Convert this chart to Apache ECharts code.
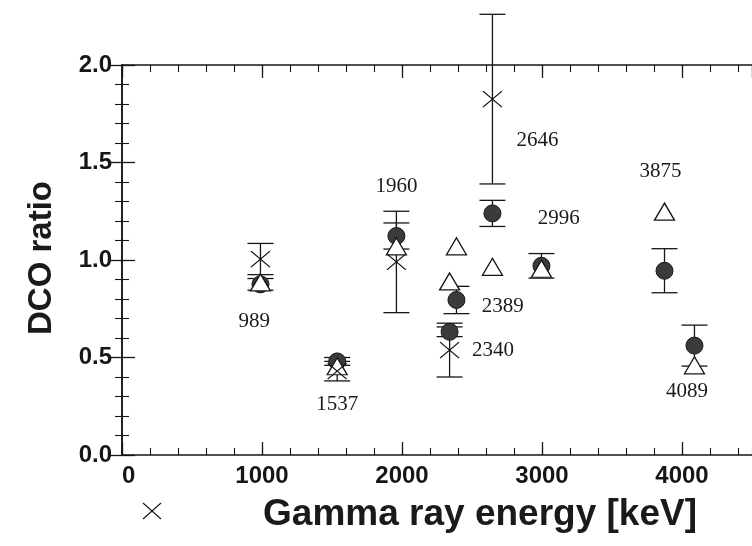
<!DOCTYPE html>
<html><head><meta charset="utf-8">
<script src="https://cdn.jsdelivr.net/npm/echarts@6/dist/echarts.min.js"></script>
<style>html,body{margin:0;padding:0;background:#fff}#c{width:752px;height:546px}</style>
</head><body><div id="c"></div>
<script>
// ---- data ----
const energies = [989, 1537, 1960, 2340, 2389, 2646, 2996, 3875, 4089];
const circleValues = [0.875, 0.48, 1.123, 0.632, 0.795, 1.239, 0.97, 0.945, 0.561];
const circleErrors = [0.03, 0.02, 0.067, 0.025, 0.07, 0.067, 0.063, 0.113, 0.105];
const triangleValues = [0.885, 0.455, 1.07, 0.89, 1.07, 0.965, 0.955, 1.248, 0.46];
const crossEnergies = [989, 1537, 1960, 2340, 2646];
const crossValues = [1.005, 0.43, 0.99, 0.538, 1.825];
const crossErrors = [0.08, 0.05, 0.26, 0.138, 0.435];
const labelTexts = ['989', '1537', '1960', '2340', '2389', '2646', '2996', '3875', '4089'];
const labelEnergies = [944, 1537, 1960, 2650, 2720, 2967, 3120, 3847, 4035];
const labelValues = [0.687, 0.26, 1.375, 0.538, 0.76, 1.615, 1.214, 1.453, 0.325];
const xTickLabels = ['0', '1000', '2000', '3000', '4000'];
const yTickLabels = ['0.0', '0.5', '1.0', '1.5', '2.0'];

const ink = '#161616';
const axisLine = {show: true, lineStyle: {color: ink, width: 1.5}};
const majorTick = {show: true, inside: true, length: 13, lineStyle: {color: ink, width: 1.3}};
const minorTickX = {show: true, inside: true, length: 7, lineStyle: {color: ink, width: 1.1}};

function xAxisDef(pos, interval, tick, withLabels, withLine) {
  return {
    type: 'value', position: pos, min: 0, max: 4500, interval: interval,
    axisLine: withLine ? axisLine : {show: false},
    axisTick: tick,
    splitLine: {show: false},
    axisLabel: withLabels ? {
      show: true, margin: 9, color: ink, fontFamily: '"Liberation Sans", Arial, sans-serif',
      fontWeight: 'bold', fontSize: 24, showMaxLabel: false, alignMinLabel: 'left',
      formatter: v => xTickLabels.indexOf(String(v)) >= 0 ? String(v) : ''
    } : {show: false}
  };
}
function yAxisDef(pos, withLabels) {
  return {
    type: 'value', position: pos, min: 0, max: 2, interval: 0.5,
    axisLine: axisLine, axisTick: majorTick,
    minorTick: {show: true, splitNumber: 5, length: 7, lineStyle: {color: ink, width: 1.1}},
    splitLine: {show: false}, minorSplitLine: {show: false},
    axisLabel: withLabels ? {
      show: true, margin: 10, color: ink, fontFamily: '"Liberation Sans", Arial, sans-serif',
      fontWeight: 'bold', fontSize: 24,
      formatter: v => yTickLabels[Math.round(v / 0.5)]
    } : {show: false}
  };
}

function errorBarRender(params, api) {
  const x = api.value(0);
  const lo = api.coord([x, api.value(1)]);
  const hi = api.coord([x, api.value(2)]);
  const hw = 13;
  const st = {stroke: ink, lineWidth: 1.3};
  return {type: 'group', children: [
    {type: 'line', shape: {x1: lo[0], y1: lo[1], x2: hi[0], y2: hi[1]}, style: st},
    {type: 'line', shape: {x1: hi[0] - hw, y1: hi[1], x2: hi[0] + hw, y2: hi[1]}, style: st},
    {type: 'line', shape: {x1: lo[0] - hw, y1: lo[1], x2: lo[0] + hw, y2: lo[1]}, style: st}
  ]};
}

const chart = echarts.init(document.getElementById('c'), null, {renderer: 'canvas'});
chart.setOption({
  backgroundColor: '#fff',
  animation: false,
  grid: {left: 122, top: 65, right: -9, bottom: 91, containLabel: false},
  xAxis: [
    xAxisDef('bottom', 1000, majorTick, true, true),
    xAxisDef('bottom', 200, minorTickX, false, false),
    xAxisDef('top', 1000, majorTick, false, true),
    xAxisDef('top', 200, minorTickX, false, false)
  ],
  yAxis: [yAxisDef('left', true), yAxisDef('right', false)],
  series: [
    {type: 'custom', clip: false, z: 2, renderItem: errorBarRender,
     data: energies.map((e, i) => [e, circleValues[i] - circleErrors[i], circleValues[i] + circleErrors[i]])},
    {type: 'custom', clip: false, z: 2, renderItem: errorBarRender,
     data: crossEnergies.map((e, i) => [e, crossValues[i] - crossErrors[i], crossValues[i] + crossErrors[i]])},
    {type: 'scatter', z: 3, symbol: 'circle', symbolSize: 17,
     itemStyle: {color: '#3b3b3b', borderColor: ink, borderWidth: 1, opacity: 1},
     data: energies.map((e, i) => [e, circleValues[i]])},
    {type: 'scatter', z: 4, symbol: 'triangle', symbolSize: [20, 17],
     itemStyle: {color: '#ffffff', borderColor: ink, borderWidth: 1.3, opacity: 1},
     data: energies.map((e, i) => [e, triangleValues[i]])},
    {type: 'scatter', z: 5, symbol: 'path://M0,0L10,8M10,0L0,8', symbolSize: [19, 16],
     itemStyle: {color: 'none', borderColor: ink, borderWidth: 1.2, opacity: 1},
     data: crossEnergies.map((e, i) => [e, crossValues[i]])},
    {type: 'custom', clip: false, z: 6,
     renderItem: (params, api) => {
       const p = api.coord([api.value(0), api.value(1)]);
       return {type: 'text', x: p[0], y: p[1], style: {
         text: labelTexts[params.dataIndex], fill: '#1a1a1a',
         font: '21px "Liberation Serif", "Times New Roman", serif',
         align: 'center', verticalAlign: 'middle'}};
     },
     data: labelEnergies.map((e, i) => [e, labelValues[i]])}
  ],
  graphic: [
    {type: 'text', x: 42, y: 258, rotation: Math.PI / 2, style: {
      text: 'DCO ratio', fill: '#1a1a1a', font: 'bold 33px "Liberation Sans", Arial, sans-serif',
      align: 'center', verticalAlign: 'middle'}},
    {type: 'text', x: 480, y: 515, style: {
      text: 'Gamma ray energy [keV]', fill: '#1a1a1a', font: 'bold 37px "Liberation Sans", Arial, sans-serif',
      align: 'center', verticalAlign: 'middle'}},
    {type: 'group', x: 152, y: 511, children: [
      {type: 'line', shape: {x1: -9, y1: -8, x2: 9, y2: 8}, style: {stroke: ink, lineWidth: 1.2}},
      {type: 'line', shape: {x1: -9, y1: 8, x2: 9, y2: -8}, style: {stroke: ink, lineWidth: 1.2}}
    ]}
  ]
});
</script></body></html>
